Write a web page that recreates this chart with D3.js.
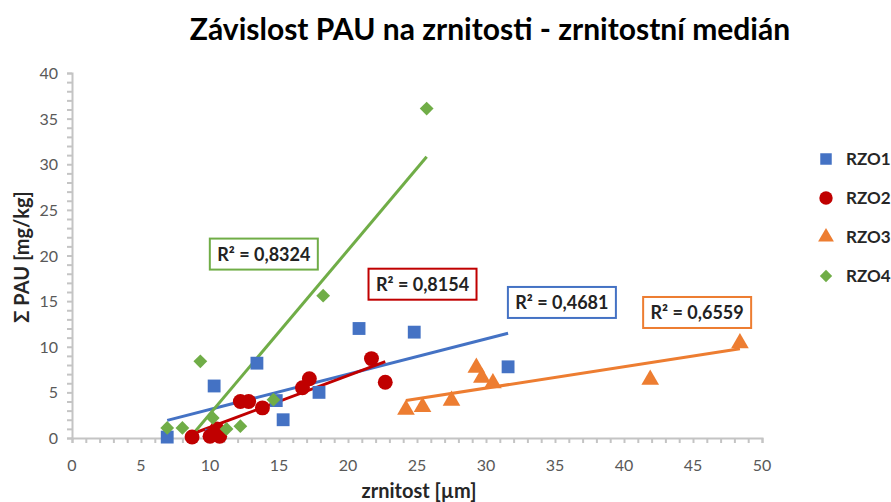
<!DOCTYPE html>
<html lang="cs">
<head>
<meta charset="UTF-8">
<title>Závislost PAU na zrnitosti</title>
<script src="https://d3js.org/d3.v7.min.js"></script>
<style>
    body { margin: 0; background: #fff; }
    text { font-family: Lato, "Open Sans", sans-serif; }
</style>
</head>
<body>
<div id="chart"></div>
<script>
    // values: [zrnitost, PAU]
    var rzo1 = [[6.9, 0.1], [10.1, 0.3], [10.3, 5.7], [13.4, 8.2], [14.8, 4.1], [15.3, 2.0], [17.9, 5.0], [20.8, 12.0], [24.8, 11.6], [31.6, 7.8]];
    var rzo2 = [[8.7, 0.1], [10.0, 0.2], [10.5, 1.0], [10.7, 0.2], [12.2, 4.0], [12.8, 4.0], [13.8, 3.3], [16.7, 5.5], [17.2, 6.5], [21.7, 8.7], [22.7, 6.1]];
    var rzo3 = [[24.2, 3.1], [25.4, 3.4], [27.5, 4.1], [29.3, 7.7], [29.7, 6.6], [30.5, 6.0], [41.9, 6.4], [48.4, 10.4]];
    var rzo4 = [[6.9, 1.1], [8.0, 1.1], [9.3, 8.4], [10.2, 2.2], [11.2, 1.0], [12.2, 1.3], [14.6, 4.2], [18.2, 15.6], [25.7, 36.1]];

    var seriesNames = ["RZO1", "RZO2", "RZO3", "RZO4"];
    var r2Labels = ["R² = 0,4681", "R² = 0,8154", "R² = 0,6559", "R² = 0,8324"];
    // where the R² boxes sit, in data units
    var r2Anchors = [[35.5, 14.8], [25.4, 16.8], [45.3, 13.7], [13.9, 20.1]];
    var xTicks = [0, 5, 10, 15, 20, 25, 30, 35, 40, 45, 50];
    var yTicks = [0, 5, 10, 15, 20, 25, 30, 35, 40];

    var colors = ["#4472C4", "#C00000", "#ED7D31", "#70AD47"];
    // diamond = square turned by 45 degrees
    var shapes = [d3.symbolSquare, d3.symbolCircle, d3.symbolTriangle, d3.symbolSquare];
    var turns = [0, 0, 0, 45];
    var sizes = [165, 175, 135, 95];
    var allSeries = [rzo1, rzo2, rzo3, rzo4];

    var width = 891, height = 502;
    var margin = {top: 73, right: 129, bottom: 64, left: 72};
    var w = width - margin.left - margin.right,
        h = height - margin.top - margin.bottom;

    var x = d3.scaleLinear().domain([0, 50]).range([0, w]);
    var y = d3.scaleLinear().domain([0, 40]).range([h, 0]);

    var svg = d3.select("#chart").append("svg")
        .attr("width", width)
        .attr("height", height);

    svg.append("text")
        .attr("x", 490).attr("y", 40)
        .attr("text-anchor", "middle")
        .style("font-size", "30px").style("font-weight", "bold").attr("fill", "#000")
        .text("Závislost PAU na zrnitosti - zrnitostní medián");

    var g = svg.append("g")
        .attr("transform", "translate(" + margin.left + "," + margin.top + ")");

    g.append("clipPath").attr("id", "plot-clip")
        .append("rect").attr("width", w).attr("height", h);

    // minor ticks every 1 unit
    var xAxis = g.append("g").attr("transform", "translate(0," + h + ")")
        .call(d3.axisBottom(x).ticks(50).tickSize(5).tickFormat(""));
    var yAxis = g.append("g")
        .call(d3.axisLeft(y).ticks(40).tickSize(5).tickFormat(""));
    [xAxis, yAxis].forEach(function (a) {
        a.selectAll("path, line").attr("stroke", "#c4c4c4").attr("stroke-width", 2);
    });

    g.selectAll(".xlab").data(xTicks).enter().append("text")
        .attr("x", function (d) { return x(d); })
        .attr("y", h + 33)
        .attr("text-anchor", "middle")
        .style("font-size", "16px").attr("fill", "#595959")
        .text(function (d) { return d; });

    g.selectAll(".ylab").data(yTicks).enter().append("text")
        .attr("x", -14)
        .attr("y", function (d) { return y(d) + 6; })
        .attr("text-anchor", "end")
        .style("font-size", "16px").attr("fill", "#595959")
        .text(function (d) { return d; });

    svg.append("text")
        .attr("x", margin.left + w / 2 + 2).attr("y", 498)
        .attr("text-anchor", "middle")
        .style("font-size", "20px").style("font-weight", "bold").attr("fill", "#262626")
        .text("zrnitost [µm]");

    svg.append("text")
        .attr("transform", "translate(29,257) rotate(-90)")
        .attr("text-anchor", "middle")
        .style("font-size", "20px").style("font-weight", "bold").attr("fill", "#262626")
        .text("Σ PAU [mg/kg]");

    // linear trend (least squares), drawn from min x to max x
    function trend(data) {
        var mx = d3.mean(data, function (d) { return d[0]; }),
            my = d3.mean(data, function (d) { return d[1]; });
        var sxy = d3.sum(data, function (d) { return (d[0] - mx) * (d[1] - my); }),
            sxx = d3.sum(data, function (d) { return (d[0] - mx) * (d[0] - mx); });
        var b = sxy / sxx, a = my - b * mx;
        var ext = d3.extent(data, function (d) { return d[0]; });
        return ext.map(function (v) { return [v, a + b * v]; });
    }

    var line = d3.line()
        .x(function (d) { return x(d[0]); })
        .y(function (d) { return y(d[1]); });

    var trends = g.append("g").attr("clip-path", "url(#plot-clip)");
    allSeries.forEach(function (data, i) {
        trends.append("path")
            .datum(trend(data))
            .attr("d", line)
            .attr("fill", "none")
            .attr("stroke", colors[i])
            .attr("stroke-width", 3);
    });

    allSeries.forEach(function (data, i) {
        g.selectAll(".pt" + i).data(data).enter().append("path")
            .attr("transform", function (d) {
                return "translate(" + x(d[0]) + "," + y(d[1]) + ") rotate(" + turns[i] + ")";
            })
            .attr("d", d3.symbol().type(shapes[i]).size(sizes[i]))
            .attr("fill", colors[i]);
    });

    // R² boxes
    r2Labels.forEach(function (lab, i) {
        var cx = x(r2Anchors[i][0]), cy = y(r2Anchors[i][1]);
        g.append("rect")
            .attr("x", cx - 54).attr("y", cy - 16)
            .attr("width", 108).attr("height", 31)
            .attr("fill", "#fff")
            .attr("stroke", colors[i]).attr("stroke-width", 2);
        g.append("text")
            .attr("x", cx).attr("y", cy + 6)
            .attr("text-anchor", "middle")
            .style("font-size", "18px").style("font-weight", "bold").attr("fill", "#222")
            .text(lab);
    });

    // legend
    var legend = svg.append("g").attr("transform", "translate(826,159)");
    seriesNames.forEach(function (name, i) {
        var row = legend.append("g").attr("transform", "translate(0," + (i * 39) + ")");
        row.append("path")
            .attr("transform", "rotate(" + turns[i] + ")")
            .attr("d", d3.symbol().type(shapes[i]).size(sizes[i] * 0.8))
            .attr("fill", colors[i]);
        row.append("text")
            .attr("x", 20).attr("y", 6)
            .style("font-size", "17px").style("font-weight", "bold").attr("fill", "#262626")
            .text(name);
    });
</script>
</body>
</html>
